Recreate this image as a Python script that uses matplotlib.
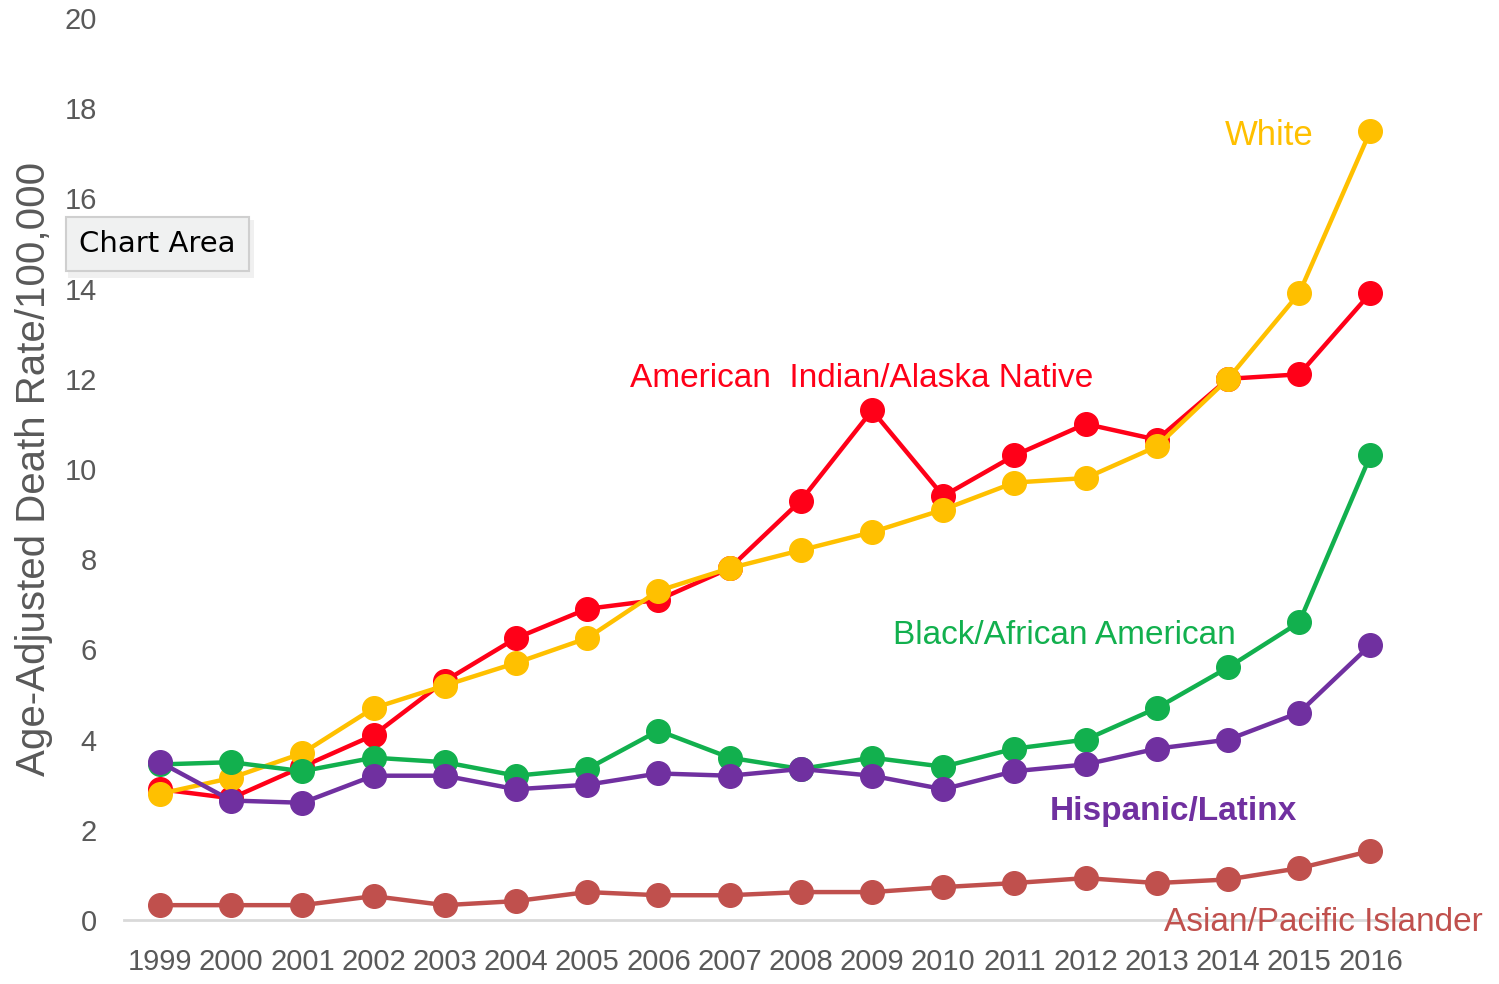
import matplotlib.pyplot as plt

years = list(range(1999, 2017))
year_labels = [str(y) for y in years]

ai_an = [2.9, 2.7, 3.4, 4.1, 5.3, 6.25, 6.9, 7.1, 7.8, 9.3, 11.3, 9.4, 10.3, 11.0, 10.65, 12.0, 12.1, 13.9]
white = [2.8, 3.15, 3.7, 4.7, 5.2, 5.7, 6.25, 7.3, 7.8, 8.2, 8.6, 9.1, 9.7, 9.8, 10.5, 12.0, 13.9, 17.5]
black = [3.45, 3.5, 3.3, 3.6, 3.5, 3.2, 3.35, 4.2, 3.6, 3.35, 3.6, 3.4, 3.8, 4.0, 4.7, 5.6, 6.6, 10.3]
hispanic = [3.5, 2.65, 2.6, 3.2, 3.2, 2.9, 3.0, 3.25, 3.2, 3.35, 3.2, 2.9, 3.3, 3.45, 3.8, 4.0, 4.6, 6.1]
asian_pi = [0.33, 0.33, 0.33, 0.53, 0.33, 0.42, 0.62, 0.55, 0.55, 0.62, 0.62, 0.73, 0.82, 0.93, 0.82, 0.9, 1.15, 1.53]

yticks = list(range(0, 21, 2))

plt.rcParams['font.family'] = ['Liberation Sans', 'DejaVu Sans']

fig = plt.figure(figsize=(14.99, 9.84), dpi=100)
ax = fig.add_axes([0.083, 0.065, 0.855, 0.9167])

x = list(range(len(years)))
series = [
    (asian_pi, '#C0504D'),
    (ai_an, '#FF0018'),
    (white, '#FFC000'),
    (black, '#12B04E'),
    (hispanic, '#7030A0'),
]
for vals, col in series:
    ax.plot(x, vals, color=col, lw=3.2, marker='o', ms=17, clip_on=False)

ax.set_xlim(-0.5, len(years) - 0.5)
ax.set_ylim(0, 20)
ax.set_yticks(yticks)
ax.set_xticks(x)
ax.set_xticklabels(year_labels)
ax.tick_params(length=0, colors='#595959', labelsize=21)
ax.tick_params(axis='y', pad=20)
ax.tick_params(axis='x', pad=20)
for s in ['top', 'right', 'left']:
    ax.spines[s].set_visible(False)
ax.spines['bottom'].set_color('#D9D9D9')
ax.spines['bottom'].set_linewidth(2)

ax.set_ylabel('Age-Adjusted Death Rate/100,000', fontsize=29, color='#595959', labelpad=8)

lab = dict(fontsize=24, clip_on=False, va='center')
ax.text(14.95, 17.4, 'White', color='#FFC000', fontsize=25, clip_on=False, va='center')
ax.text(6.6, 12.0, 'American  Indian/Alaska Native', color='#FF0018', **lab)
ax.text(10.3, 6.3, 'Black/African American', color='#12B04E', **lab)
ax.text(12.5, 2.4, 'Hispanic/Latinx', color='#7030A0', fontweight='bold', **lab)
ax.text(14.1, -0.05, 'Asian/Pacific Islander', color='#C0504D', **lab)

# tooltip with a soft shadow
fig.text(0.055, 0.747, 'Chart Area', fontsize=21, color='#E6E6E6', family=['DejaVu Sans'],
         va='center', ha='left', alpha=0.5,
         bbox=dict(boxstyle='square,pad=0.5', fc='#DADADA', ec='none', alpha=0.4))
fig.text(0.053, 0.752, 'Chart Area', fontsize=21, color='black', family=['DejaVu Sans'],
         va='center', ha='left',
         bbox=dict(boxstyle='square,pad=0.45', fc='#F0F1F1', ec='#CFCFCF', lw=1.5))

fig.savefig('out.png', dpi=100)
